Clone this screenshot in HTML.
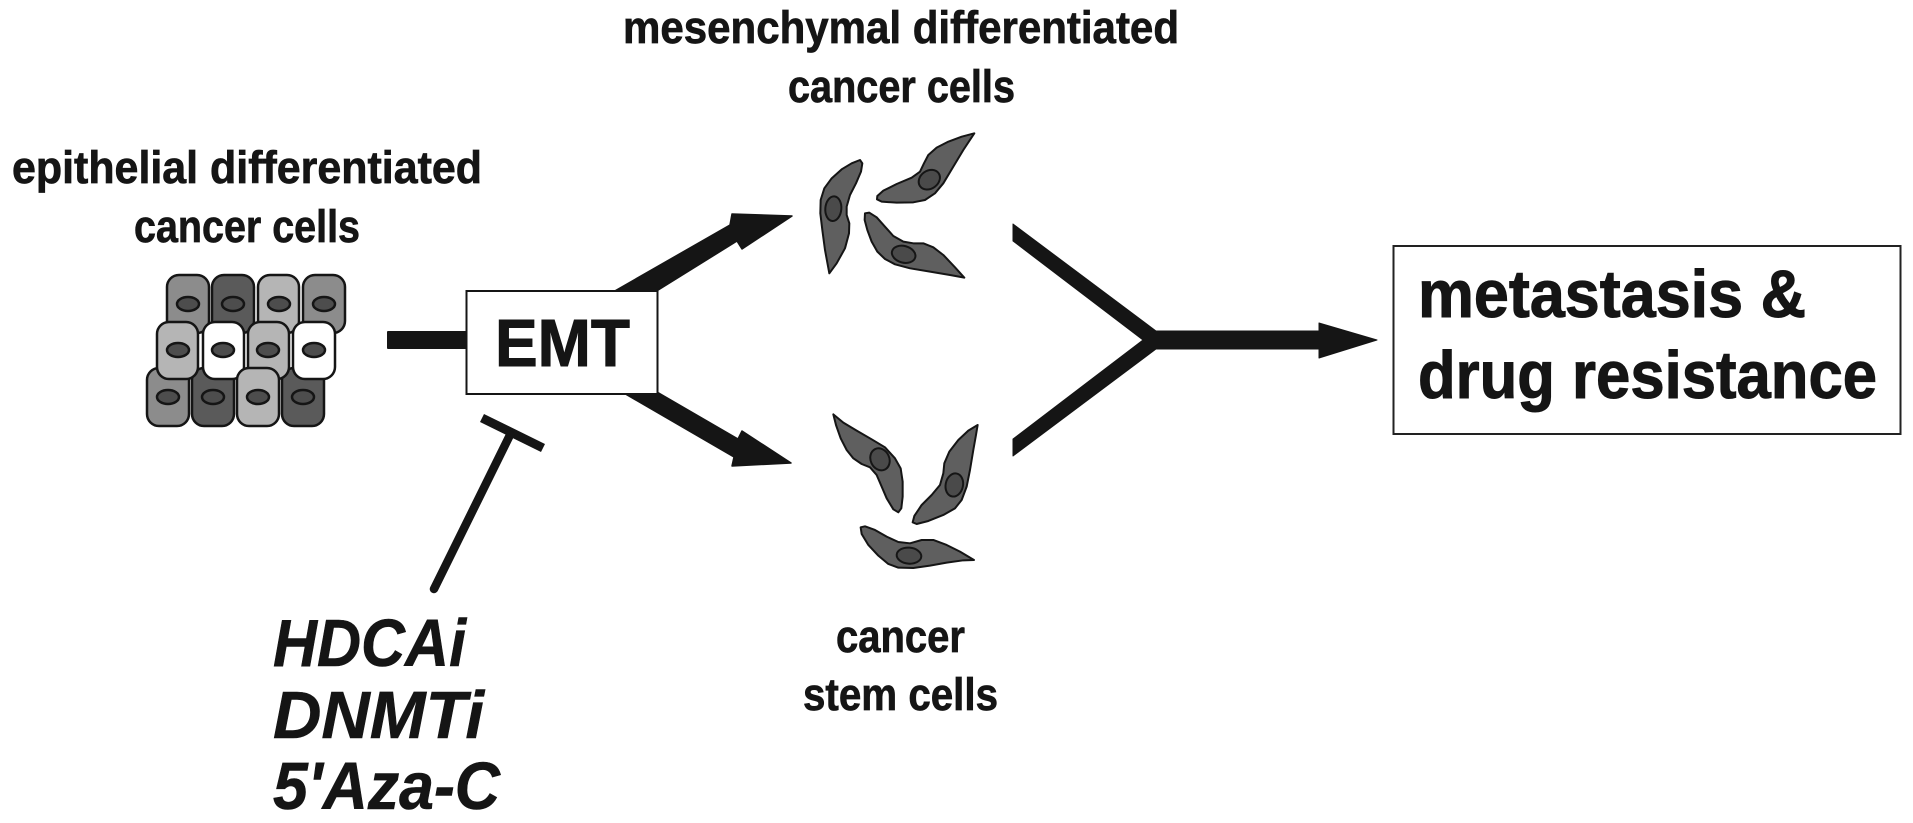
<!DOCTYPE html>
<html>
<head>
<meta charset="utf-8">
<style>
html,body{margin:0;padding:0;background:#fff;width:1913px;height:823px;overflow:hidden}
svg{display:block}
text{font-family:"Liberation Sans",sans-serif;font-weight:bold;fill:#151515;stroke:#151515;stroke-width:.7px}
.l{font-size:45px}
.b{font-size:67px;stroke-width:1px}
.i{font-size:67px;font-style:italic;stroke-width:.6px}
.cell{stroke:#151515;stroke-width:2.5}
.n{fill:#4d4d4d;stroke:#151515;stroke-width:2.5}
.sc polygon{fill:#5f5f5f;stroke:#151515;stroke-width:6;stroke-linejoin:round}
.sc ellipse{fill:#4a4a4a;stroke:#151515;stroke-width:6}
</style>
</head>
<body>
<svg width="1913" height="823" viewBox="0 0 1913 823" xmlns="http://www.w3.org/2000/svg">
<rect width="1913" height="823" fill="#fff"/>

<!-- labels -->
<text class="l" x="12" y="183" textLength="470" lengthAdjust="spacingAndGlyphs">epithelial differentiated</text>
<text class="l" x="134" y="242" textLength="226" lengthAdjust="spacingAndGlyphs">cancer cells</text>
<text class="l" x="623" y="43" textLength="556" lengthAdjust="spacingAndGlyphs">mesenchymal differentiated</text>
<text class="l" x="788" y="102" textLength="227" lengthAdjust="spacingAndGlyphs">cancer cells</text>
<text class="l" x="836" y="652" textLength="129" lengthAdjust="spacingAndGlyphs">cancer</text>
<text class="l" x="803" y="710" textLength="195" lengthAdjust="spacingAndGlyphs">stem cells</text>

<!-- epithelial cells -->
<g>
<rect class="cell" x="147" y="368" width="42" height="58" rx="12" fill="#8c8c8c"/>
<rect class="cell" x="192" y="368" width="42" height="58" rx="12" fill="#5a5a5a"/>
<rect class="cell" x="282" y="368" width="42" height="58" rx="12" fill="#5a5a5a"/>
<rect class="cell" x="167" y="275" width="42" height="58" rx="12" fill="#8c8c8c"/>
<rect class="cell" x="212" y="275" width="42" height="58" rx="12" fill="#5a5a5a"/>
<rect class="cell" x="258" y="275" width="41" height="58" rx="12" fill="#b5b5b5"/>
<rect class="cell" x="303" y="275" width="42" height="58" rx="12" fill="#8c8c8c"/>
<ellipse class="n" cx="188" cy="304" rx="11" ry="7"/>
<ellipse class="n" cx="233" cy="304" rx="11" ry="7"/>
<ellipse class="n" cx="279" cy="304" rx="11" ry="7"/>
<ellipse class="n" cx="324" cy="304" rx="11" ry="7"/>
<rect class="cell" x="157" y="322" width="41" height="57" rx="12" fill="#b5b5b5"/>
<rect class="cell" x="203" y="322" width="41" height="57" rx="12" fill="#fff"/>
<rect class="cell" x="248" y="322" width="41" height="57" rx="12" fill="#b5b5b5"/>
<rect class="cell" x="293" y="322" width="42" height="57" rx="12" fill="#fff"/>
<ellipse class="n" cx="178" cy="350" rx="11" ry="7"/>
<ellipse class="n" cx="223" cy="350" rx="11" ry="7"/>
<ellipse class="n" cx="268" cy="350" rx="11" ry="7"/>
<ellipse class="n" cx="314" cy="350" rx="11" ry="7"/>
<rect class="cell" x="237" y="368" width="42" height="58" rx="12" fill="#b5b5b5"/>
<ellipse class="n" cx="168" cy="397" rx="11" ry="7"/>
<ellipse class="n" cx="213" cy="397" rx="11" ry="7"/>
<ellipse class="n" cx="258" cy="397" rx="11" ry="7"/>
<ellipse class="n" cx="303" cy="397" rx="11" ry="7"/>
</g>

<!-- connectors -->
<rect x="387" y="331" width="82" height="18" fill="#151515" rx="1"/>
<polygon fill="#151515" stroke="#151515" stroke-width="1.5" stroke-linejoin="round" points="613,292 730,225 732,214 792,216 742,249 737,241 655,292"/>
<polygon fill="#151515" stroke="#151515" stroke-width="1.5" stroke-linejoin="round" points="622,392 657,392 738,439 742,431 791,463 732,466 734,457"/>
<polygon fill="#151515" stroke="#151515" stroke-width="1" stroke-linejoin="round" points="1013,224 1156,331 1319,331 1319,323 1377,340 1319,358 1319,349 1156,349 1013,456 1013,439 1143,340 1013,241"/>

<!-- EMT box -->
<rect x="466.5" y="291" width="191" height="103" fill="#fff" stroke="#151515" stroke-width="2"/>
<text x="495" y="366" style="font-size:67px;stroke-width:1px" textLength="135" lengthAdjust="spacingAndGlyphs">EMT</text>

<!-- inhibitor -->
<line x1="482" y1="418" x2="543" y2="448" stroke="#151515" stroke-width="9"/>
<line x1="510" y1="435" x2="434" y2="589" stroke="#151515" stroke-width="8.5" stroke-linecap="round"/>

<!-- italic labels -->
<text class="i" x="273" y="666" textLength="193" lengthAdjust="spacingAndGlyphs">HDCAi</text>
<text class="i" x="273" y="738" textLength="211" lengthAdjust="spacingAndGlyphs">DNMTi</text>
<text class="i" x="273" y="809" textLength="227" lengthAdjust="spacingAndGlyphs">5'Aza-C</text>

<!-- mesenchymal cells -->
<g class="sc" transform="translate(780,110) scale(0.3333)">
<polygon points="240,150 215,160 185,178 155,205 133,235 122,270 121,310 127,360 135,420 148,490 170,460 195,415 207,370 208,340 200,315 200,290 210,255 228,220 243,185 247,160"/>
<ellipse cx="160" cy="296" rx="24" ry="37" transform="rotate(5 160 296)"/>
<polygon points="583,70 545,80 505,95 470,113 445,135 432,160 420,185 395,203 350,222 310,242 292,258 291,268 305,275 350,278 400,277 435,270 465,250 490,220 520,170 550,120"/>
<ellipse cx="448" cy="209" rx="34" ry="27" transform="rotate(-35 448 209)"/>
<polygon points="255,310 268,308 290,322 315,350 340,378 370,395 400,400 430,400 460,412 490,435 525,472 553,503 510,495 450,485 390,475 345,463 315,447 292,425 275,395 262,360 254,330"/>
<ellipse cx="371" cy="433" rx="36" ry="25" transform="rotate(15 371 433)"/>
</g>

<!-- stem cells -->
<g class="sc" transform="translate(800,390) scale(0.3333)">
<polygon points="100,73 108,105 122,145 140,180 160,205 185,222 210,232 230,255 245,290 260,325 280,358 295,367 304,355 308,320 308,275 302,235 285,205 255,172 215,148 170,122 130,98"/>
<ellipse cx="240" cy="208" rx="28" ry="34" transform="rotate(-25 240 208)"/>
<polygon points="533,105 505,122 475,150 448,185 433,220 430,250 420,285 395,315 365,345 343,378 338,397 350,402 385,393 430,375 465,355 485,330 500,290 510,240 520,180 528,135"/>
<ellipse cx="463" cy="285" rx="26" ry="35" transform="rotate(12 463 285)"/>
<polygon points="182,412 195,409 225,420 260,440 295,456 330,460 365,450 400,450 440,465 480,485 522,510 490,511 440,518 390,527 340,534 295,533 265,522 235,497 205,465 185,432"/>
<ellipse cx="327" cy="497" rx="37" ry="24" transform="rotate(5 327 497)"/>
</g>

<!-- result box -->
<rect x="1393.5" y="246" width="507" height="188" fill="#fff" stroke="#222" stroke-width="2"/>
<text class="b" x="1418" y="317" textLength="388" lengthAdjust="spacingAndGlyphs">metastasis &amp;</text>
<text class="b" x="1418" y="398" textLength="459" lengthAdjust="spacingAndGlyphs">drug resistance</text>
</svg>
</body>
</html>
